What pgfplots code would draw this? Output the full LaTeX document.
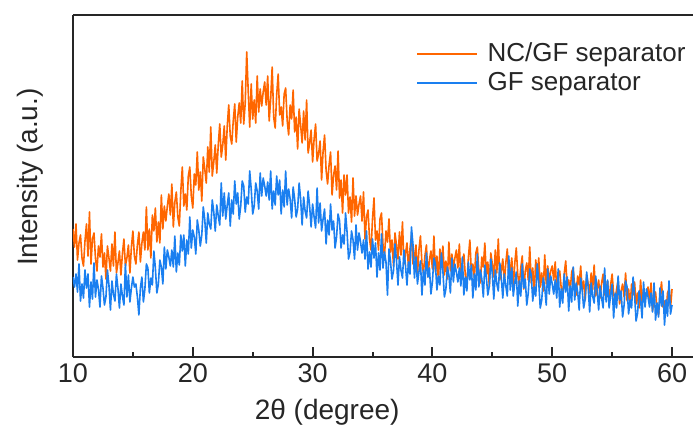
\documentclass[border=0pt]{standalone}
\usepackage{pgfplots}
\pgfplotsset{compat=1.18}
\usepackage{fontspec}
\setmainfont{Liberation Sans}
\definecolor{ncorange}{RGB}{255,102,0}
\definecolor{gfblue}{RGB}{26,127,240}
\begin{document}
\begin{tikzpicture}
\begin{axis}[
  scale only axis,
  width=311.5pt, height=171pt,
  xmin=10, xmax=62, ymin=0, ymax=342,
  axis x line=box, axis y line=left,
  axis line style={line width=1pt, color=black!85, -},
  xtick={10,20,30,40,50,60},
  minor x tick num=1,
  xtick pos=bottom,
  xtick align=inside,
  ytick=\empty,
  major tick length=5pt, minor tick length=2.5pt,
  every tick/.style={line width=1pt, color=black!85},
  /pgf/number format/assume math mode=true,
  xticklabel style={font=\fontsize{13.5}{16}\selectfont, text=black!85},
  xlabel={2θ (degree)},
  ylabel={Intensity (a.u.)},
  xlabel style={font=\fontsize{14}{17}\selectfont, text=black!85, at={(axis description cs:0.408,-0.161)}, anchor=center},
  ylabel style={font=\fontsize{14}{17}\selectfont, text=black!85, at={(axis description cs:-0.069,0.526)}, anchor=center, rotate=0},
  legend style={draw=none, fill=none, inner sep=0pt, outer sep=0pt, at={(axis cs:38.67,317.5)}, anchor=north west, font=\fontsize{13}{15}\selectfont, text=black!85, nodes={inner sep=1.75pt}, row sep=0.4pt, column sep=3pt},
  legend cell align=left,
  legend image code/.code={\draw[#1, line width=0.8pt] (0pt,0pt) -- (30pt,0pt);},
]
\addplot[ncorange, line width=0.8pt, line join=round] table[row sep=\\] {
x y\\
10 128\\ 10.125 110\\ 10.25 133\\ 10.375 97\\ 10.5 114\\ 10.625 122\\ 10.75 99\\ 10.875 91\\
11 116\\ 11.125 133\\ 11.25 101\\ 11.375 145\\ 11.5 93\\ 11.625 118\\ 11.75 124\\ 11.875 99\\
12 86\\ 12.125 111\\ 12.25 100\\ 12.375 123\\ 12.5 90\\ 12.625 104\\ 12.75 78\\ 12.875 111\\
13 99\\ 13.125 86\\ 13.25 113\\ 13.375 91\\ 13.5 125\\ 13.625 84\\ 13.75 94\\ 13.875 106\\
14 82\\ 14.125 103\\ 14.25 118\\ 14.375 91\\ 14.5 99\\ 14.625 112\\ 14.75 84\\ 14.875 110\\
15 126\\ 15.125 101\\ 15.25 93\\ 15.375 112\\ 15.5 125\\ 15.625 95\\ 15.75 114\\ 15.875 125\\
16 107\\ 16.125 150\\ 16.25 107\\ 16.375 128\\ 16.5 99\\ 16.625 142\\ 16.75 126\\ 16.875 149\\
17 115\\ 17.125 135\\ 17.25 114\\ 17.375 162\\ 17.5 128\\ 17.625 151\\ 17.75 136\\ 17.875 151\\
18 163\\ 18.125 142\\ 18.25 173\\ 18.375 130\\ 18.5 155\\ 18.625 165\\ 18.75 140\\ 18.875 131\\
19 166\\ 19.125 190\\ 19.25 151\\ 19.375 163\\ 19.5 147\\ 19.625 181\\ 19.75 190\\ 19.875 161\\
20 149\\ 20.125 183\\ 20.25 172\\ 20.375 205\\ 20.5 167\\ 20.625 185\\ 20.75 156\\ 20.875 200\\
21 188\\ 21.125 174\\ 21.25 210\\ 21.375 185\\ 21.5 230\\ 21.625 181\\ 21.75 195\\ 21.875 212\\
22 184\\ 22.125 212\\ 22.25 233\\ 22.375 200\\ 22.5 212\\ 22.625 231\\ 22.75 197\\ 22.875 231\\
23 252\\ 23.125 221\\ 23.25 213\\ 23.375 236\\ 23.5 253\\ 23.625 215\\ 23.75 240\\ 23.875 254\\
24 234\\ 24.125 276\\ 24.25 233\\ 24.375 254\\ 24.5 305\\ 24.625 266\\ 24.75 230\\ 24.875 273\\
25 238\\ 25.125 257\\ 25.25 234\\ 25.375 281\\ 25.5 245\\ 25.625 268\\ 25.75 251\\ 25.875 265\\
26 275\\ 26.125 252\\ 26.25 281\\ 26.375 236\\ 26.5 258\\ 26.625 290\\ 26.75 240\\ 26.875 229\\
27 262\\ 27.125 283\\ 27.25 242\\ 27.375 250\\ 27.5 231\\ 27.625 263\\ 27.75 269\\ 27.875 237\\
28 222\\ 28.125 252\\ 28.25 238\\ 28.375 267\\ 28.5 225\\ 28.625 240\\ 28.75 208\\ 28.875 248\\
29 232\\ 29.125 214\\ 29.25 246\\ 29.375 217\\ 29.5 257\\ 29.625 204\\ 29.75 214\\ 29.875 227\\
30 195\\ 30.125 218\\ 30.25 233\\ 30.375 196\\ 30.5 203\\ 30.625 216\\ 30.75 177\\ 30.875 206\\
31 222\\ 31.125 187\\ 31.25 173\\ 31.375 192\\ 31.5 205\\ 31.625 162\\ 31.75 182\\ 31.875 191\\
32 167\\ 32.125 206\\ 32.25 159\\ 32.375 177\\ 32.5 144\\ 32.625 182\\ 32.75 162\\ 32.875 182\\
33 144\\ 33.125 160\\ 33.25 135\\ 33.375 179\\ 33.5 141\\ 33.625 161\\ 33.75 142\\ 33.875 153\\
34 161\\ 34.125 136\\ 34.25 165\\ 34.375 118\\ 34.5 140\\ 34.625 147\\ 34.75 118\\ 34.875 107\\
35 138\\ 35.125 159\\ 35.25 117\\ 35.375 126\\ 35.5 107\\ 35.625 138\\ 35.75 144\\ 35.875 112\\
36 101\\ 36.125 126\\ 36.25 115\\ 36.375 138\\ 36.5 105\\ 36.625 117\\ 36.75 91\\ 36.875 124\\
37 112\\ 37.125 98\\ 37.25 125\\ 37.375 102\\ 37.5 135\\ 37.625 93\\ 37.75 103\\ 37.875 114\\
38 89\\ 38.125 108\\ 38.25 122\\ 38.375 93\\ 38.5 100\\ 38.625 112\\ 38.75 82\\ 38.875 107\\
39 121\\ 39.125 94\\ 39.25 84\\ 39.375 101\\ 39.5 112\\ 39.625 80\\ 39.75 97\\ 39.875 106\\
40 88\\ 40.125 121\\ 40.25 85\\ 40.375 101\\ 40.5 76\\ 40.625 108\\ 40.75 93\\ 40.875 111\\
41 82\\ 41.125 96\\ 41.25 78\\ 41.375 115\\ 41.5 86\\ 41.625 103\\ 41.75 89\\ 41.875 99\\
42 107\\ 42.125 89\\ 42.25 113\\ 42.375 77\\ 42.5 95\\ 42.625 103\\ 42.75 81\\ 42.875 73\\
43 99\\ 43.125 117\\ 43.25 85\\ 43.375 93\\ 43.5 79\\ 43.625 104\\ 43.75 110\\ 43.875 86\\
44 74\\ 44.125 100\\ 44.25 90\\ 44.375 114\\ 44.5 82\\ 44.625 95\\ 44.75 70\\ 44.875 104\\
45 93\\ 45.125 80\\ 45.25 107\\ 45.375 84\\ 45.5 118\\ 45.625 77\\ 45.75 86\\ 45.875 98\\
46 74\\ 46.125 94\\ 46.25 108\\ 46.375 79\\ 46.5 86\\ 46.625 99\\ 46.75 69\\ 46.875 94\\
47 109\\ 47.125 82\\ 47.25 72\\ 47.375 89\\ 47.5 101\\ 47.625 68\\ 47.75 86\\ 47.875 94\\
48 77\\ 48.125 110\\ 48.25 74\\ 48.375 89\\ 48.5 64\\ 48.625 97\\ 48.75 81\\ 48.875 99\\
49 70\\ 49.125 84\\ 49.25 66\\ 49.375 102\\ 49.5 73\\ 49.625 91\\ 49.75 76\\ 49.875 86\\
50 91\\ 50.125 77\\ 50.25 95\\ 50.375 67\\ 50.5 81\\ 50.625 86\\ 50.75 69\\ 50.875 63\\
51 83\\ 51.125 96\\ 51.25 71\\ 51.375 77\\ 51.5 66\\ 51.625 85\\ 51.75 89\\ 51.875 70\\
52 62\\ 52.125 81\\ 52.25 72\\ 52.375 91\\ 52.5 67\\ 52.625 76\\ 52.75 57\\ 52.875 82\\
53 73\\ 53.125 64\\ 53.25 84\\ 53.375 67\\ 53.5 92\\ 53.625 61\\ 53.75 68\\ 53.875 77\\
54 59\\ 54.125 74\\ 54.25 83\\ 54.375 62\\ 54.5 68\\ 54.625 76\\ 54.75 54\\ 54.875 72\\
55 83\\ 55.125 63\\ 55.25 57\\ 55.375 68\\ 55.5 77\\ 55.625 53\\ 55.75 66\\ 55.875 73\\
56 60\\ 56.125 84\\ 56.25 56\\ 56.375 68\\ 56.5 50\\ 56.625 73\\ 56.75 62\\ 56.875 75\\
57 53\\ 57.125 64\\ 57.25 49\\ 57.375 77\\ 57.5 55\\ 57.625 67\\ 57.75 57\\ 57.875 64\\
58 70\\ 58.125 56\\ 58.25 74\\ 58.375 46\\ 58.5 60\\ 58.625 65\\ 58.75 48\\ 58.875 42\\
59 62\\ 59.125 75\\ 59.25 50\\ 59.375 56\\ 59.5 45\\ 59.625 64\\ 59.75 68\\ 59.875 49\\
60 68\\
};
\addlegendentry{NC/GF separator}
\addplot[gfblue, line width=0.8pt, line join=round] table[row sep=\\] {
x y\\
10 80\\ 10.125 70\\ 10.25 83\\ 10.375 65\\ 10.5 93\\ 10.625 56\\ 10.75 73\\ 10.875 59\\
11 87\\ 11.125 69\\ 11.25 83\\ 11.375 50\\ 11.5 75\\ 11.625 58\\ 11.75 94\\ 11.875 60\\
12 77\\ 12.125 68\\ 12.25 50\\ 12.375 81\\ 12.5 69\\ 12.625 52\\ 12.75 60\\ 12.875 87\\
13 72\\ 13.125 47\\ 13.25 76\\ 13.375 63\\ 13.5 56\\ 13.625 83\\ 13.75 69\\ 13.875 49\\
14 73\\ 14.125 61\\ 14.25 52\\ 14.375 93\\ 14.5 60\\ 14.625 82\\ 14.75 55\\ 14.875 69\\
15 80\\ 15.125 70\\ 15.25 73\\ 15.375 60\\ 15.5 42\\ 15.625 69\\ 15.75 80\\ 15.875 55\\
16 68\\ 16.125 93\\ 16.25 89\\ 16.375 64\\ 16.5 79\\ 16.625 72\\ 16.75 106\\ 16.875 89\\
17 64\\ 17.125 73\\ 17.25 97\\ 17.375 90\\ 17.5 73\\ 17.625 110\\ 17.75 88\\ 17.875 107\\
18 100\\ 18.125 91\\ 18.25 107\\ 18.375 90\\ 18.5 121\\ 18.625 85\\ 18.75 104\\ 18.875 92\\
19 122\\ 19.125 106\\ 19.25 122\\ 19.375 91\\ 19.5 117\\ 19.625 103\\ 19.75 140\\ 19.875 109\\
20 127\\ 20.125 120\\ 20.25 103\\ 20.375 137\\ 20.5 127\\ 20.625 111\\ 20.75 122\\ 20.875 150\\
21 137\\ 21.125 114\\ 21.25 144\\ 21.375 133\\ 21.5 128\\ 21.625 157\\ 21.75 145\\ 21.875 126\\
22 152\\ 22.125 141\\ 22.25 132\\ 22.375 174\\ 22.5 141\\ 22.625 164\\ 22.75 138\\ 22.875 152\\
23 164\\ 23.125 131\\ 23.25 157\\ 23.375 143\\ 23.5 176\\ 23.625 153\\ 23.75 164\\ 23.875 138\\
24 151\\ 24.125 176\\ 24.25 171\\ 24.375 145\\ 24.5 160\\ 24.625 153\\ 24.75 186\\ 24.875 168\\
25 143\\ 25.125 151\\ 25.25 174\\ 25.375 166\\ 25.5 148\\ 25.625 184\\ 25.75 161\\ 25.875 179\\
26 171\\ 26.125 161\\ 26.25 175\\ 26.375 157\\ 26.5 186\\ 26.625 148\\ 26.75 166\\ 26.875 152\\
27 181\\ 27.125 162\\ 27.25 177\\ 27.375 143\\ 27.5 167\\ 27.625 150\\ 27.75 186\\ 27.875 152\\
28 168\\ 28.125 158\\ 28.25 139\\ 28.375 170\\ 28.5 158\\ 28.625 140\\ 28.75 148\\ 28.875 174\\
29 158\\ 29.125 132\\ 29.25 160\\ 29.375 146\\ 29.5 139\\ 29.625 166\\ 29.75 151\\ 29.875 130\\
30 153\\ 30.125 140\\ 30.25 129\\ 30.375 169\\ 30.5 134\\ 30.625 154\\ 30.75 126\\ 30.875 138\\
31 148\\ 31.125 113\\ 31.25 137\\ 31.375 122\\ 31.5 153\\ 31.625 127\\ 31.75 136\\ 31.875 109\\
32 120\\ 32.125 143\\ 32.25 136\\ 32.375 109\\ 32.5 122\\ 32.625 113\\ 32.75 144\\ 32.875 125\\
33 98\\ 33.125 105\\ 33.25 126\\ 33.375 117\\ 33.5 98\\ 33.625 132\\ 33.75 107\\ 33.875 124\\
34 115\\ 34.125 104\\ 34.25 117\\ 34.375 98\\ 34.5 126\\ 34.625 88\\ 34.75 105\\ 34.875 90\\
35 118\\ 35.125 99\\ 35.25 114\\ 35.375 80\\ 35.5 104\\ 35.625 87\\ 35.75 123\\ 35.875 89\\
36 105\\ 36.125 95\\ 36.25 62\\ 36.375 108\\ 36.5 96\\ 36.625 78\\ 36.75 86\\ 36.875 113\\
37 97\\ 37.125 72\\ 37.25 100\\ 37.375 87\\ 37.5 79\\ 37.625 107\\ 37.75 92\\ 37.875 72\\
38 95\\ 38.125 83\\ 38.25 130\\ 38.375 113\\ 38.5 79\\ 38.625 100\\ 38.75 73\\ 38.875 85\\
39 96\\ 39.125 62\\ 39.25 87\\ 39.375 72\\ 39.5 104\\ 39.625 80\\ 39.75 89\\ 39.875 63\\
40 75\\ 40.125 99\\ 40.25 93\\ 40.375 67\\ 40.5 81\\ 40.625 72\\ 40.75 104\\ 40.875 86\\
41 60\\ 41.125 68\\ 41.25 90\\ 41.375 82\\ 41.5 64\\ 41.625 99\\ 41.75 75\\ 41.875 93\\
42 85\\ 42.125 75\\ 42.25 89\\ 42.375 71\\ 42.5 100\\ 42.625 62\\ 42.75 80\\ 42.875 66\\
43 95\\ 43.125 77\\ 43.25 92\\ 43.375 59\\ 43.5 83\\ 43.625 67\\ 43.75 103\\ 43.875 70\\
44 87\\ 44.125 78\\ 44.25 60\\ 44.375 92\\ 44.5 80\\ 44.625 62\\ 44.75 71\\ 44.875 98\\
45 83\\ 45.125 58\\ 45.25 87\\ 45.375 73\\ 45.5 66\\ 45.625 94\\ 45.75 79\\ 45.875 59\\
46 83\\ 46.125 71\\ 46.25 61\\ 46.375 101\\ 46.5 67\\ 46.625 89\\ 46.75 61\\ 46.875 74\\
47 85\\ 47.125 51\\ 47.25 76\\ 47.375 61\\ 47.5 93\\ 47.625 69\\ 47.75 78\\ 47.875 52\\
48 64\\ 48.125 88\\ 48.25 82\\ 48.375 56\\ 48.5 70\\ 48.625 61\\ 48.75 93\\ 48.875 75\\
49 49\\ 49.125 57\\ 49.25 79\\ 49.375 70\\ 49.5 52\\ 49.625 88\\ 49.75 63\\ 49.875 81\\
50 73\\ 50.125 63\\ 50.25 77\\ 50.375 59\\ 50.5 88\\ 50.625 50\\ 50.75 68\\ 50.875 54\\
51 83\\ 51.125 65\\ 51.25 80\\ 51.375 46\\ 51.5 71\\ 51.625 55\\ 51.75 90\\ 51.875 57\\
52 74\\ 52.125 65\\ 52.25 47\\ 52.375 79\\ 52.5 67\\ 52.625 49\\ 52.75 58\\ 52.875 85\\
53 70\\ 53.125 45\\ 53.25 74\\ 53.375 61\\ 53.5 54\\ 53.625 81\\ 53.75 67\\ 53.875 47\\
54 71\\ 54.125 59\\ 54.25 49\\ 54.375 89\\ 54.5 55\\ 54.625 77\\ 54.75 49\\ 54.875 62\\
55 73\\ 55.125 39\\ 55.25 64\\ 55.375 49\\ 55.5 81\\ 55.625 57\\ 55.75 66\\ 55.875 40\\
56 52\\ 56.125 76\\ 56.25 70\\ 56.375 43\\ 56.5 57\\ 56.625 49\\ 56.75 80\\ 56.875 62\\
57 36\\ 57.125 44\\ 57.25 66\\ 57.375 57\\ 57.5 39\\ 57.625 75\\ 57.75 50\\ 57.875 68\\
58 60\\ 58.125 50\\ 58.25 64\\ 58.375 45\\ 58.5 74\\ 58.625 37\\ 58.75 54\\ 58.875 40\\
59 69\\ 59.125 51\\ 59.25 66\\ 59.375 32\\ 59.5 57\\ 59.625 41\\ 59.75 76\\ 59.875 43\\
60 52\\
};
\addlegendentry{GF separator}
\end{axis}
\pgfresetboundingbox
\useasboundingbox (-36.5pt,-36.5pt) rectangle (310pt,178.5pt);
\end{tikzpicture}
\end{document}
